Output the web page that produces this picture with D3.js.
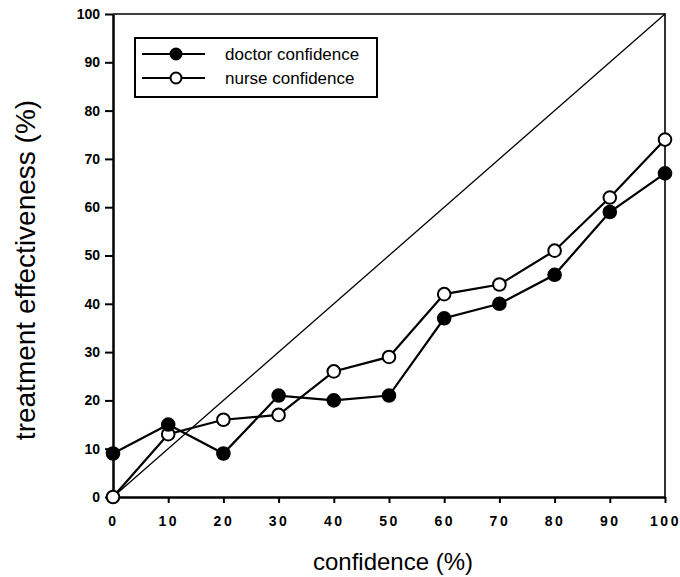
<!DOCTYPE html>
<html>
<head>
<meta charset="utf-8">
<script src="https://cdn.jsdelivr.net/npm/d3@7"></script>
<style>
  body { margin: 0; background: #fff; }
  text { font-family: "Liberation Sans", Arial, sans-serif; }
</style>
</head>
<body>
<div id="wrapper"></div>
<script>
// data
const confidence = [0, 10, 20, 30, 40, 50, 60, 70, 80, 90, 100]
const doctorValues = [9, 15, 9, 21, 20, 21, 37, 40, 46, 59, 67]
const nurseValues = [0, 13, 16, 17, 26, 29, 42, 44, 51, 62, 74]
const diagonal = [0, 100]
const tickValues = [0, 10, 20, 30, 40, 50, 60, 70, 80, 90, 100]
const seriesNames = ["doctor confidence", "nurse confidence"]

function drawChart() {
    const dimensions = {
        width: 680,
        height: 577,
        margin: { top: 14, right: 15, bottom: 80, left: 113 },
    }
    dimensions.boundedWidth = dimensions.width - dimensions.margin.left - dimensions.margin.right
    dimensions.boundedHeight = dimensions.height - dimensions.margin.top - dimensions.margin.bottom

    const svg = d3.select("#wrapper")
        .append("svg")
        .attr("width", dimensions.width)
        .attr("height", dimensions.height)

    const bounds = svg.append("g")
        .attr("transform", `translate(${dimensions.margin.left},${dimensions.margin.top})`)

    const xScale = d3.scaleLinear().domain([0, 100]).range([0, dimensions.boundedWidth])
    const yScale = d3.scaleLinear().domain([0, 100]).range([dimensions.boundedHeight, 0])

    // frame (top and right)
    bounds.append("path")
        .attr("d", `M0,0H${dimensions.boundedWidth}V${dimensions.boundedHeight}`)
        .attr("fill", "none")
        .attr("stroke", "#000")
        .attr("stroke-width", 1.6)

    // axes
    const xAxis = bounds.append("g")
        .attr("transform", `translate(0,${dimensions.boundedHeight})`)
        .call(d3.axisBottom(xScale).tickValues(tickValues).tickSize(6).tickPadding(13).tickSizeOuter(0))
    const yAxis = bounds.append("g")
        .call(d3.axisLeft(yScale).tickValues(tickValues).tickSize(8).tickPadding(5).tickSizeOuter(0))

    ;[xAxis, yAxis].forEach(ax => {
        ax.select(".domain").attr("stroke-width", 2.5)
        ax.selectAll(".tick line").attr("stroke-width", 2)
        ax.selectAll(".tick text")
            .attr("fill", "#000")
            .style("font-size", "14px")
            .style("font-weight", "bold")
    })
    xAxis.selectAll(".tick text").style("letter-spacing", "2.5px")

    // diagonal reference line
    bounds.append("line")
        .attr("x1", xScale(diagonal[0])).attr("y1", yScale(diagonal[0]))
        .attr("x2", xScale(diagonal[1])).attr("y2", yScale(diagonal[1]))
        .attr("stroke", "#000")
        .attr("stroke-width", 1.3)

    const lineGen = d3.line()
        .x((d, i) => xScale(confidence[i]))
        .y(d => yScale(d))

    const series = [
        { values: nurseValues, fill: "#fff" },
        { values: doctorValues, fill: "#000" },
    ]

    series.forEach(s => {
        bounds.append("path")
            .datum(s.values)
            .attr("d", lineGen)
            .attr("fill", "none")
            .attr("stroke", "#000")
            .attr("stroke-width", 2.2)
    })
    series.forEach(s => {
        bounds.selectAll(null)
            .data(s.values)
            .join("circle")
            .attr("cx", (d, i) => xScale(confidence[i]))
            .attr("cy", d => yScale(d))
            .attr("r", 6.3)
            .attr("fill", s.fill)
            .attr("stroke", "#000")
            .attr("stroke-width", 2)
    })

    // legend
    const legend = svg.append("g").attr("transform", "translate(135,38)")
    legend.append("rect")
        .attr("width", 242).attr("height", 59)
        .attr("fill", "#fff").attr("stroke", "#000").attr("stroke-width", 2)
    const legendFills = ["#000", "#fff"]
    seriesNames.forEach((name, i) => {
        const row = legend.append("g").attr("transform", `translate(0,${16 + i * 24})`)
        row.append("line").attr("x1", 7).attr("x2", 70)
            .attr("stroke", "#000").attr("stroke-width", 2)
        row.append("circle").attr("cx", 41).attr("r", 5.5)
            .attr("fill", legendFills[i]).attr("stroke", "#000").attr("stroke-width", 2)
        row.append("text").attr("x", 90).attr("dy", "0.35em")
            .style("font-size", "17px").text(name)
    })

    // axis titles
    svg.append("text")
        .attr("x", 393)
        .attr("y", 570)
        .attr("text-anchor", "middle")
        .style("font-size", "24px")
        .text("confidence (%)")

    svg.append("text")
        .attr("transform", `translate(35,270) rotate(-90)`)
        .attr("text-anchor", "middle")
        .style("font-size", "28px")
        .text("treatment effectiveness (%)")
}
drawChart()
</script>
</body>
</html>
